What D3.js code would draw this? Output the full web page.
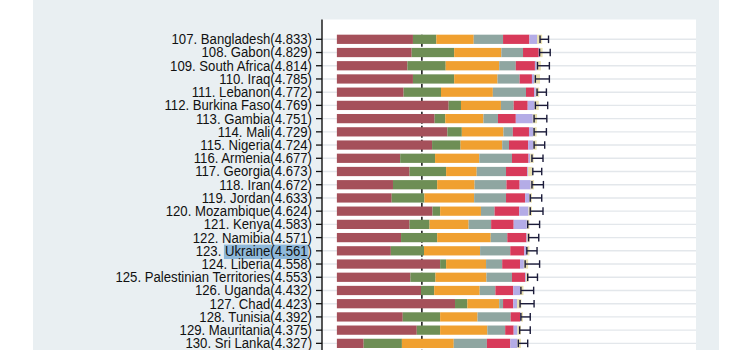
<!DOCTYPE html>
<html><head><meta charset="utf-8">
<script src="https://cdn.jsdelivr.net/npm/d3@7/dist/d3.min.js"></script>
<style>html,body{margin:0;padding:0;background:#fff;}svg{display:block;}</style>
</head><body>
<svg id="c" width="750" height="350"></svg>
<script>
const ranks = [107,108,109,110,111,112,113,114,115,116,117,118,119,120,121,122,123,124,125,126,127,128,129,130];
const countries = ["Bangladesh","Gabon","South Africa","Iraq","Lebanon","Burkina Faso","Gambia","Mali","Nigeria","Armenia","Georgia","Iran","Jordan","Mozambique","Kenya","Namibia","Ukraine","Liberia","Palestinian Territories","Uganda","Chad","Tunisia","Mauritania","Sri Lanka"];
const scores = [4.833,4.829,4.814,4.785,4.772,4.769,4.751,4.729,4.724,4.677,4.673,4.672,4.633,4.624,4.583,4.571,4.561,4.558,4.553,4.432,4.423,4.392,4.375,4.327];
// segment values (stacked left to right)
const seg1 = [1.79,1.76,1.66,1.79,1.57,2.63,2.30,2.60,2.24,1.49,1.71,1.32,1.29,2.25,1.71,1.51,1.27,2.43,1.73,1.98,2.78,1.55,1.88,0.63];
const seg2 = [0.55,1.00,0.90,0.97,0.88,0.29,0.25,0.34,0.67,0.82,0.86,1.04,0.77,0.18,0.47,0.85,0.78,0.14,0.59,0.31,0.29,0.88,0.55,0.90];
const seg3 = [0.88,1.11,1.26,1.02,1.22,0.94,0.90,0.98,0.98,1.04,0.72,0.88,1.17,0.96,0.92,1.26,1.32,0.94,1.20,1.07,0.75,0.88,1.11,1.22];
const seg4 = [0.69,0.51,0.39,0.52,0.78,0.30,0.34,0.22,0.16,0.77,0.69,0.75,0.75,0.32,0.53,0.39,0.71,0.38,0.60,0.37,0.09,0.78,0.42,0.78];
const seg5 = [0.62,0.37,0.45,0.29,0.19,0.33,0.42,0.38,0.45,0.39,0.50,0.31,0.45,0.58,0.53,0.45,0.33,0.42,0.31,0.42,0.24,0.22,0.20,0.55];
const seg6 = [0.18,0.03,0.04,0.05,0.04,0.16,0.40,0.10,0.12,0.04,0.02,0.26,0.10,0.22,0.31,0.02,0.06,0.09,0.02,0.16,0.09,0.02,0.09,0.17];
const seg7 = [0.12,0.06,0.10,0.14,0.08,0.10,0.10,0.08,0.08,0.08,0.10,0.08,0.06,0.08,0.06,0.06,0.06,0.10,0.06,0.08,0.10,0.05,0.08,0.08];
const ciLow  = [4.78,4.77,4.72,4.67,4.71,4.67,4.64,4.64,4.64,4.59,4.61,4.59,4.55,4.55,4.49,4.51,4.47,4.43,4.49,4.33,4.31,4.33,4.30,4.27];
const ciHigh = [4.98,5.02,5.00,5.00,4.93,4.96,4.94,4.93,4.89,4.85,4.82,4.86,4.82,4.85,4.77,4.75,4.71,4.77,4.72,4.63,4.64,4.55,4.55,4.49];
const refLine = 2.0;
const highlighted = "Ukraine";

const segColors = ["#a5505a","#6e8e55","#f0a030","#8fa6a1","#d83a5a","#b4ace6","#e8dfb0"];
const segs = [seg1,seg2,seg3,seg4,seg5,seg6,seg7];

const labels = countries.map((c,i)=>`${ranks[i]}. ${c}(${scores[i].toFixed(3)})`);

const svg = d3.select("#c");
// panel background
svg.append("rect").attr("x",33).attr("y",0).attr("width",686).attr("height",350).attr("fill","#e9eff2");
// plot area
const plotL = 322, plotR = 696, plotT = 19.5;
svg.append("rect").attr("x",plotL).attr("y",plotT).attr("width",plotR-plotL).attr("height",350-plotT).attr("fill","#ffffff");

const x = d3.scaleLinear().domain([-0.35, 8.45]).range([plotL, plotR]);
const y = d3.scaleBand().domain(labels).range([32.69, 349.97]).paddingInner(0.3).paddingOuter(0.15);

// gridlines at row centers
svg.append("g").selectAll("line").data(labels).join("line")
  .attr("x1",plotL).attr("x2",plotR)
  .attr("y1",d=>y(d)+y.bandwidth()/2).attr("y2",d=>y(d)+y.bandwidth()/2)
  .attr("stroke","#e3e7eb").attr("stroke-width",1.4);

// reference dashed line
svg.append("line").attr("x1",x(refLine)).attr("x2",x(refLine)).attr("y1",y(labels[0])).attr("y2",350)
  .attr("stroke","#111").attr("stroke-width",1.5).attr("stroke-dasharray","5,2");

// stacked bars
const rows = labels.map((l,i)=>{
  let acc=0; const parts=[];
  segs.forEach((s,k)=>{ parts.push({x0:acc,x1:acc+s[i],k}); acc+=s[i]; });
  return {label:l, parts};
});
const gRows = svg.append("g").selectAll("g").data(rows).join("g");
gRows.selectAll("rect").data(d=>d.parts.map(p=>({...p,label:d.label}))).join("rect")
  .attr("x",d=>x(d.x0)).attr("width",d=>Math.max(0,x(d.x1)-x(d.x0)))
  .attr("y",d=>y(d.label)).attr("height",y.bandwidth())
  .attr("fill",d=>segColors[d.k]);

// CI whiskers
const gw = svg.append("g").attr("stroke","#1c1c3a").attr("stroke-width",1.4).attr("fill","none");
labels.forEach((l,i)=>{
  const cy = y(l)+y.bandwidth()/2, h = 3.8;
  gw.append("line").attr("x1",x(ciLow[i])).attr("x2",x(ciHigh[i])).attr("y1",cy).attr("y2",cy);
  gw.append("line").attr("x1",x(ciLow[i])).attr("x2",x(ciLow[i])).attr("y1",cy-h).attr("y2",cy+h);
  gw.append("line").attr("x1",x(ciHigh[i])).attr("x2",x(ciHigh[i])).attr("y1",cy-h).attr("y2",cy+h);
});

// left axis
const ax = svg.append("g").attr("transform",`translate(${plotL},0)`)
  .call(d3.axisLeft(y).tickSize(6).tickPadding(4).tickSizeOuter(0));
ax.select(".domain").remove();
ax.selectAll(".tick line").attr("stroke","#111").attr("stroke-width",1.3);
ax.append("line").attr("x1",0).attr("x2",0).attr("y1",plotT).attr("y2",350).attr("stroke","#111").attr("stroke-width",1.4);
const txt = ax.selectAll(".tick text")
  .attr("font-family","'Liberation Sans', Arial, Helvetica, sans-serif")
  .attr("font-size",14).attr("fill","#111").attr("dy","0.35em");
txt.each(function(){
  const w = this.getComputedTextLength();
  d3.select(this).attr("textLength", w*0.94).attr("lengthAdjust","spacingAndGlyphs");
});

// highlight
txt.each(function(d){
  if (d.indexOf(highlighted) < 0) return;
  const idx = d.indexOf(highlighted);
  const endIdx = d.length - 2;
  const s = this.getStartPositionOfChar(idx);
  const e = this.getEndPositionOfChar(endIdx);
  const tick = this.parentNode;
  d3.select(tick).insert("rect","text")
    .attr("x",s.x-1).attr("width",e.x-s.x+2)
    .attr("y",-6.2).attr("height",14.4)
    .attr("fill","#7eaed6").attr("opacity",0.85);
});
</script>
</body></html>
